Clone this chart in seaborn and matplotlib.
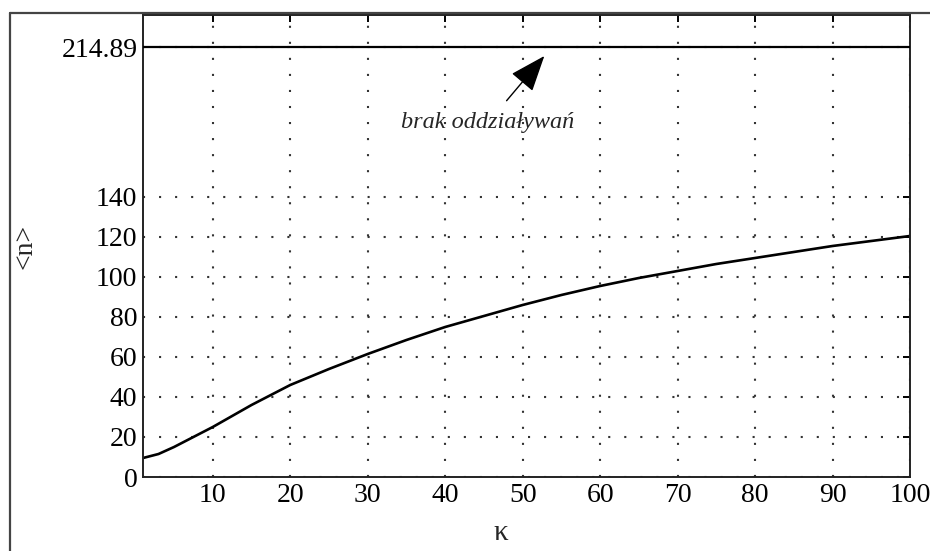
import matplotlib
matplotlib.use("Agg")
import matplotlib.pyplot as plt
from matplotlib.lines import Line2D
import seaborn as sns
import pandas as pd

# data
kappa = [1, 3, 5, 7.5, 10, 15, 20, 25, 30, 35, 40, 45, 50, 55, 60, 65, 70, 75, 80, 85, 90, 95, 100]
n_mean = [9.5, 11.5, 15, 20, 25, 36, 46, 54, 61.5, 68.5, 75, 80.5, 86, 91, 95.5, 99.5, 103, 106.5, 109.5, 112.5, 115.5, 118, 120.5]
no_interaction = 214.89
x_ticks = [10, 20, 30, 40, 50, 60, 70, 80, 90, 100]
y_ticks = [0, 20, 40, 60, 80, 100, 120, 140, no_interaction]
y_tick_labels = ["0", "20", "40", "60", "80", "100", "120", "140", "214.89"]
annot_text = "brak oddziaływań"
x_label = "κ"
y_label = "<n>"

sns.set_style("white")
plt.rcParams["font.family"] = ["Liberation Serif", "DejaVu Serif"]

fig = plt.figure(figsize=(9.30, 5.51), dpi=100)
ax = fig.add_axes([0.1538, 0.1343, 0.9785 - 0.1538, 0.9728 - 0.1343])

df = pd.DataFrame({"kappa": kappa, "n": n_mean})
sns.lineplot(data=df, x="kappa", y="n", ax=ax, color="black", linewidth=1.9)
ax.axhline(no_interaction, color="black", linewidth=1.6, zorder=3)

ax.set_xlim(1, 100)
ax.set_ylim(0, 231)
ax.set_xticks(x_ticks)
ax.set_yticks(y_ticks)
ax.set_yticklabels(y_tick_labels)
ax.grid(True, color="#333333", linestyle=(0, (1, 6.7)), linewidth=1.5)

ax.tick_params(direction="in", length=5, width=1.4, top=True, right=True,
               labelsize=20, colors="black", pad=4)
for s in ax.spines.values():
    s.set_linewidth(1.4)
    s.set_color("#222222")

ax.set_xlabel(x_label, fontsize=21)
ax.set_ylabel(y_label, fontsize=20)
ax.yaxis.set_label_coords(-0.137, 0.50)
ax.xaxis.set_label_coords(0.466, -0.093)

ax.annotate(annot_text, xy=(52.8, 210.5), xytext=(45.5, 177),
            fontsize=17.5, style="italic", ha="center", va="center",
            arrowprops=dict(arrowstyle="-|>,head_length=1.3,head_width=0.5",
                            color="black", lw=1.0, shrinkA=8, shrinkB=0))

# outer frame of the figure
fig.add_artist(Line2D([10 / 930, 10 / 930], [0, 1 - 13 / 551], color="#444444", linewidth=1.6,
                      transform=fig.transFigure))
fig.add_artist(Line2D([10 / 930, 1], [1 - 13 / 551, 1 - 13 / 551], color="#444444", linewidth=1.6,
                      transform=fig.transFigure))

fig.savefig("out.png", dpi=100)
